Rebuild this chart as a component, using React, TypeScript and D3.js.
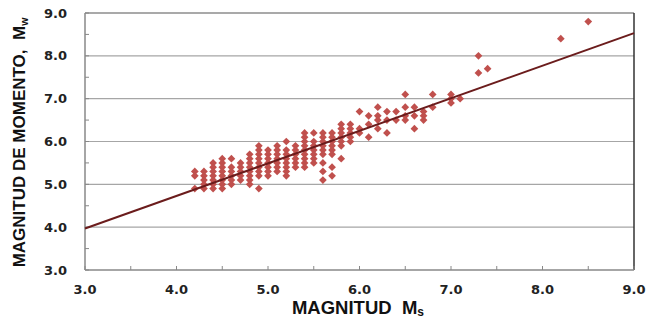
import React from "react";
import * as d3 from "d3";

// Ms column -> list of Mw values
const msValues: number[] = [4.2, 4.3, 4.4, 4.5, 4.6, 4.7, 4.8, 4.9, 5.0, 5.1, 5.2, 5.3, 5.4, 5.5, 5.6, 5.7, 5.8, 5.9, 6.0, 6.1, 6.2, 6.3, 6.4, 6.5, 6.6, 6.7, 6.8, 7.0, 7.1, 7.3, 7.4, 8.2, 8.5];
const mwValues: number[][] = [
  [5.3, 5.2, 4.9],
  [5.3, 5.2, 5.1, 5.0, 4.9],
  [5.5, 5.4, 5.3, 5.2, 5.1, 5.0, 4.9],
  [5.6, 5.5, 5.4, 5.3, 5.2, 5.1, 5.0, 4.9],
  [5.6, 5.4, 5.3, 5.2, 5.1, 5.0],
  [5.5, 5.4, 5.3, 5.2, 5.1],
  [5.7, 5.6, 5.5, 5.4, 5.3, 5.2, 5.1, 5.0],
  [5.9, 5.8, 5.7, 5.6, 5.5, 5.4, 5.3, 5.2, 4.9],
  [5.8, 5.7, 5.6, 5.5, 5.4, 5.3, 5.2],
  [5.9, 5.8, 5.7, 5.6, 5.5, 5.4, 5.3],
  [6.0, 5.8, 5.7, 5.6, 5.5, 5.4, 5.3, 5.2],
  [5.9, 5.8, 5.7, 5.6, 5.5, 5.4],
  [6.2, 6.1, 6.0, 5.9, 5.8, 5.7, 5.6, 5.5, 5.4],
  [6.2, 6.0, 5.9, 5.8, 5.7, 5.6, 5.5],
  [6.2, 6.1, 6.0, 5.9, 5.8, 5.7, 5.5, 5.3, 5.1],
  [6.2, 6.1, 6.0, 5.9, 5.8, 5.7, 5.4, 5.2],
  [6.4, 6.3, 6.2, 6.1, 6.0, 5.9, 5.6],
  [6.4, 6.3, 6.2, 6.1, 6.0],
  [6.7, 6.3, 6.2],
  [6.6, 6.4, 6.1],
  [6.8, 6.6, 6.5, 6.3],
  [6.7, 6.5, 6.2],
  [6.7, 6.5],
  [7.1, 6.8, 6.6, 6.5],
  [6.8, 6.6, 6.3],
  [6.7, 6.6, 6.5],
  [7.1, 6.8],
  [7.1, 7.0, 6.9],
  [7.0],
  [8.0, 7.6],
  [7.7],
  [8.4],
  [8.8],
];
const regressionEnds: [number, number][] = [[3, 3.97], [9, 8.53]];
const tickValues: number[] = [3, 4, 5, 6, 7, 8, 9];
const minorTicks: number[] = [3.5, 4.5, 5.5, 6.5, 7.5, 8.5];

const W = 652, H = 320;
const L = 85, R = 634, T = 13, B = 270;

export default function App() {
  const x = d3.scaleLinear().domain([3, 9]).range([L, R]);
  const y = d3.scaleLinear().domain([3, 9]).range([B, T]);
  const points: [number, number][] = [];
  msValues.forEach((ms, i) => mwValues[i].forEach((mw) => points.push([ms, mw])));
  const line = d3.line<[number, number]>().x((d) => x(d[0])).y((d) => y(d[1]));
  const diamond = d3.symbol().type(d3.symbolDiamond2).size(38)() as string;
  const tickFont = "'DejaVu Sans', Verdana, sans-serif";
  return (
    <svg width={W} height={H} style={{ position: "absolute", left: 0, top: 0, background: "#fff" }}>
      {tickValues.slice(1, -1).map((t) => (
        <line key={"g" + t} x1={L} x2={R} y1={y(t)} y2={y(t)} stroke="#a6a6a6" strokeWidth={1.2} />
      ))}
      {/* frame */}
      <line x1={L} x2={R} y1={T} y2={T} stroke="#555" strokeWidth={1.2} />
      <line x1={R} x2={R} y1={T} y2={B} stroke="#333" strokeWidth={1.5} />
      <line x1={L} x2={L} y1={T} y2={B} stroke="#888" strokeWidth={1.5} />
      <line x1={L} x2={R} y1={B} y2={B} stroke="#888" strokeWidth={1.5} />
      {[...tickValues, ...minorTicks].map((t) => (
        <g key={"t" + t}>
          <line x1={L} x2={L + 4} y1={y(t)} y2={y(t)} stroke="#888" />
          <line x1={x(t)} x2={x(t)} y1={B} y2={B - 4} stroke="#888" />
        </g>
      ))}
      {tickValues.map((t) => (
        <text key={"yl" + t} x={67} y={y(t)} dy="0.35em" textAnchor="end" fontFamily={tickFont} fontWeight="bold" fontSize={13} fill="#222">
          {t.toFixed(1)}
        </text>
      ))}
      {tickValues.map((t) => (
        <text key={"xl" + t} x={x(t)} y={294} textAnchor="middle" fontFamily={tickFont} fontWeight="bold" fontSize={13} fill="#222">
          {t.toFixed(1)}
        </text>
      ))}
      {points.map((p, i) => (
        <path key={"p" + i} d={diamond} transform={`translate(${x(p[0])},${y(p[1])})`} fill="#c0504d" />
      ))}
      <path d={line(regressionEnds) as string} fill="none" stroke="#6b1c1c" strokeWidth={2} />
      <text x={358} y={314} textAnchor="middle" fontFamily="'Liberation Sans', Arial, sans-serif" fontWeight="bold" fontSize={18.5} fill="#111">
        MAGNITUD{"\u00a0\u00a0"}M<tspan fontSize={12} dy={2}>s</tspan>
      </text>
      <text transform={`translate(25,${(T + B) / 2 + 1}) rotate(-90)`} textAnchor="middle" fontFamily="'Liberation Sans Narrow', 'Liberation Sans', Arial, sans-serif" fontWeight="bold" fontSize={17} fill="#111">
        MAGNITUD DE MOMENTO,{"\u00a0\u00a0"}M<tspan fontSize={10.5} dy={3}>w</tspan>
      </text>
    </svg>
  );
}
